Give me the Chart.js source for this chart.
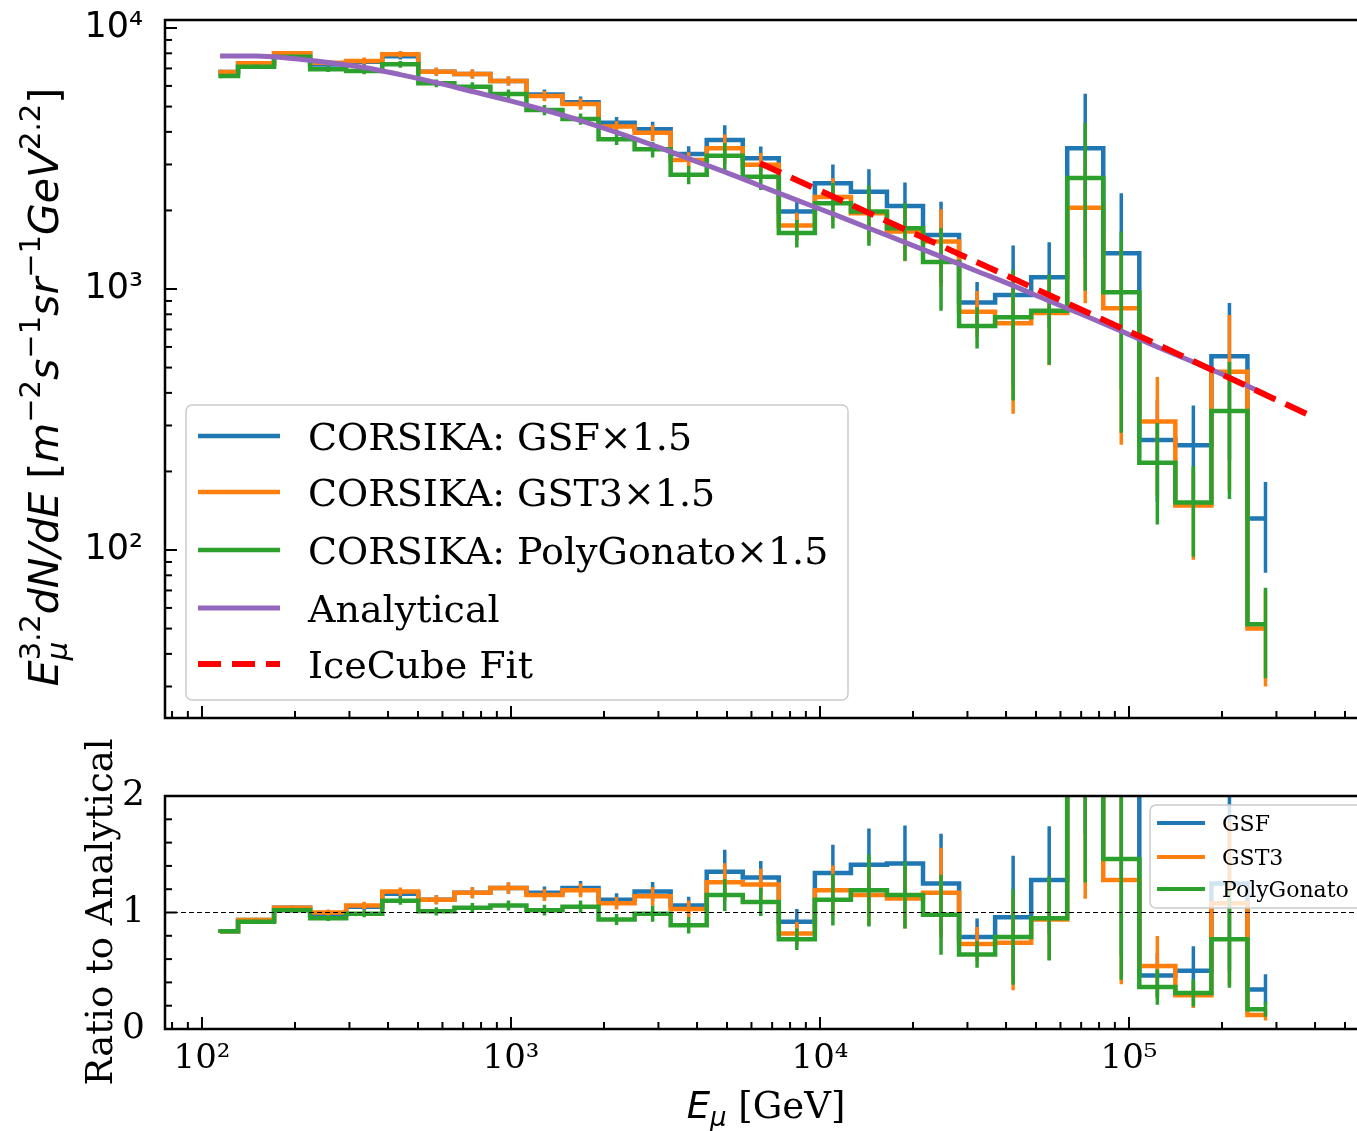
<!DOCTYPE html>
<html>
<head>
<meta charset="utf-8">
<script src="https://cdn.jsdelivr.net/npm/chart.js@4.4.1/dist/chart.umd.min.js"></script>
<style>
  html, body { margin: 0; padding: 0; background: #fff; overflow: hidden; }
  #wrap { position: relative; width: 1357px; height: 1131px; overflow: hidden; background: #fff; }
  canvas { position: absolute; left: 0; }
  #chartTop { top: 0; }
  #chartBot { top: 720px; }
</style>
</head>
<body>
<div id="wrap">
  <canvas id="chartTop" width="1400" height="720"></canvas>
  <canvas id="chartBot" width="1400" height="411"></canvas>
</div>
<script>
// muon energy bin centres [GeV]
var energy = [114.4, 149.6, 195.7, 256.0, 335.0, 438.3, 573.3, 749.9, 981.1, 1283,
              1679, 2196, 2873, 3758, 4917, 6431, 8414, 11007, 14398, 18836,
              24643, 32236, 42170, 55172, 72161, 94406, 123510, 161530, 211350, 276480];

// E^3.2 dN/dE, CORSIKA x1.5
var fluxGSF  = [6780, 7330, 8000, 7250, 7420, 7800, 6800, 6670, 6270, 5560,
                5200, 4340, 4090, 3290, 3720, 3170, 1980, 2540, 2360, 2080,
                1610, 887, 948, 1110, 3460, 1370, 264, 252, 553, 132];
var fluxGST3 = [6780, 7330, 8000, 7360, 7480, 7930, 6800, 6670, 6270, 5490,
                5120, 4190, 3970, 3120, 3460, 2990, 1750, 2250, 1950, 1660,
                1520, 819, 739, 810, 2050, 843, 311, 148, 482, 50];
var fluxPoly = [6550, 7110, 7760, 6950, 6850, 7260, 6140, 5960, 5590, 4850,
                4480, 3750, 3430, 2740, 3240, 2690, 1640, 2130, 1980, 1710,
                1270, 721, 780, 826, 2660, 971, 216, 152, 341, 52];

// relative errors
var errGSF  = [0.02, 0.02, 0.02, 0.025, 0.03, 0.03, 0.035, 0.04, 0.04, 0.045,
               0.05, 0.05, 0.07, 0.07, 0.14, 0.11, 0.12, 0.18, 0.22, 0.23,
               0.34, 0.2, 0.55, 0.36, 0.62, 0.7, 0.42, 0.42, 0.6, 0.38];
var errGST3 = [0.02, 0.02, 0.02, 0.025, 0.03, 0.03, 0.035, 0.04, 0.04, 0.045,
               0.05, 0.05, 0.07, 0.07, 0.13, 0.11, 0.12, 0.18, 0.22, 0.23,
               0.33, 0.2, 0.55, 0.37, 0.57, 0.7, 0.48, 0.38, 0.65, 0.4];
var errPoly = [0.02, 0.02, 0.02, 0.025, 0.03, 0.03, 0.035, 0.04, 0.04, 0.045,
               0.05, 0.05, 0.07, 0.08, 0.12, 0.11, 0.12, 0.2, 0.26, 0.25,
               0.35, 0.18, 0.52, 0.38, 0.63, 0.71, 0.42, 0.38, 0.54, 0.38];

var analytical = [7810, 7810, 7640, 7380, 7060, 6630, 6180, 5710, 5280, 4850,
                  4420, 3980, 3560, 3160, 2810, 2480, 2190, 1940, 1710, 1510,
                  1330, 1170, 1030, 900, 790, 690, 600, 525, 458, 395];

// IceCube fit
var fitEnergy = [6394, 117000, 393000];
var fitFlux = [3031, 632, 324];

// ratio to analytical
var ratioGSF  = [0.84, 0.935, 1.04, 0.98, 1.05, 1.16, 1.11, 1.17, 1.21, 1.17,
                 1.21, 1.11, 1.18, 1.06, 1.35, 1.30, 0.92, 1.34, 1.41, 1.42,
                 1.25, 0.79, 0.96, 1.28, 4.4, 2.1, 0.46, 0.50, 1.25, 0.34];
var ratioGST3 = [0.84, 0.936, 1.04, 1.0, 1.06, 1.18, 1.11, 1.17, 1.21, 1.15,
                 1.19, 1.08, 1.14, 1.03, 1.26, 1.24, 0.82, 1.19, 1.15, 1.12,
                 1.17, 0.73, 0.74, 0.94, 2.6, 1.28, 0.54, 0.29, 1.08, 0.12];
var ratioPoly = [0.84, 0.92, 1.02, 0.95, 0.99, 1.10, 1.01, 1.04, 1.06, 1.02,
                 1.05, 0.94, 0.99, 0.89, 1.15, 1.09, 0.77, 1.11, 1.19, 1.15,
                 0.98, 0.64, 0.79, 0.95, 3.4, 1.46, 0.36, 0.31, 0.77, 0.17];

var mainNames = ['CORSIKA: GSF\u00d71.5', 'CORSIKA: GST3\u00d71.5', 'CORSIKA: PolyGonato\u00d71.5', 'Analytical', 'IceCube Fit'];
var ratioNames = ['GSF', 'GST3', 'PolyGonato'];

var xMin = 75.9, xMax = 593500;
var yMin = 22.72, yMax = 10732;
var xTickVals = [80, 90, 100, 200, 300, 400, 500, 600, 700, 800, 900,
                 1000, 2000, 3000, 4000, 5000, 6000, 7000, 8000, 9000,
                 10000, 20000, 30000, 40000, 50000, 60000, 70000, 80000, 90000,
                 100000, 200000, 300000, 400000, 500000];
var yTickVals = [30, 40, 50, 60, 70, 80, 90, 100, 200, 300, 400, 500, 600, 700, 800, 900,
                 1000, 2000, 3000, 4000, 5000, 6000, 7000, 8000, 9000, 10000];
var ratioTickVals = [0, 0.2, 0.4, 0.6, 0.8, 1, 1.2, 1.4, 1.6, 1.8, 2];

var BLUE = '#1f77b4', ORANGE = '#ff7f0e', GREEN = '#2ca02c', PURPLE = '#9467bd', RED = '#ff0000';

var SUP = { '0': '\u2070', '1': '\u00b9', '2': '\u00b2', '3': '\u00b3', '4': '\u2074', '5': '\u2075' };
function isPow(v) {
  var e = Math.log10(v);
  return Math.abs(e - Math.round(e)) < 1e-6;
}
function powLabel(v) {
  return isPow(v) ? '10' + SUP[String(Math.round(Math.log10(v)))] : '';
}

function stepSet(vals, color) {
  return {
    data: energy.map(function (e, i) { return { x: e, y: vals[i] }; }),
    borderColor: color, borderWidth: 4.5, stepped: 'middle', pointRadius: 0,
    fill: false, borderJoinStyle: 'miter'
  };
}
function errSet(vals, rel, color) {
  var pts = [];
  energy.forEach(function (e, i) {
    pts.push({ x: e, y: vals[i] * (1 - rel[i]) }, { x: e, y: vals[i] * (1 + rel[i]) }, { x: e, y: null });
  });
  return { data: pts, borderColor: color, borderWidth: 3.5, pointRadius: 0, fill: false, spanGaps: false, borderCapStyle: 'butt' };
}

function drawRich(ctx, parts, x, y, rotate) {
  ctx.save();
  ctx.translate(x, y);
  if (rotate) ctx.rotate(-Math.PI / 2);
  var total = 0;
  parts.forEach(function (p) { ctx.font = p.f; if (!p.keep) total += ctx.measureText(p.t).width; });
  var cx = -total / 2;
  ctx.fillStyle = '#000';
  ctx.textBaseline = 'alphabetic';
  ctx.textAlign = 'left';
  parts.forEach(function (p) {
    ctx.font = p.f;
    ctx.fillText(p.t, cx, p.dy || 0);
    if (!p.keep) cx += ctx.measureText(p.t).width;
  });
  ctx.restore();
}

function drawLegend(ctx, L) {
  ctx.save();
  ctx.beginPath();
  ctx.roundRect(L.x, L.y, L.w, L.h, 6);
  ctx.fillStyle = 'rgba(255,255,255,0.8)';
  ctx.fill();
  ctx.strokeStyle = '#cccccc';
  ctx.lineWidth = 1.5;
  ctx.stroke();
  ctx.font = L.font;
  ctx.textBaseline = 'alphabetic';
  ctx.fillStyle = '#000';
  L.rows.forEach(function (r, i) {
    var y = L.rowY[i];
    ctx.strokeStyle = r.color;
    ctx.lineWidth = r.width;
    ctx.lineCap = 'butt';
    ctx.setLineDash(r.dash || []);
    ctx.beginPath();
    ctx.moveTo(L.lineX0, y);
    ctx.lineTo(L.lineX1, y);
    ctx.stroke();
    ctx.setLineDash([]);
    ctx.fillText(r.label, L.textX, y + L.size * 0.365);
  });
  ctx.restore();
}

function makeDeco(isMajorY, extra) {
  return {
    id: 'deco',
    afterDatasetsDraw: function (chart) {
      var ctx = chart.ctx, a = chart.chartArea, sx = chart.scales.x, sy = chart.scales.y;
      ctx.save();
      ctx.strokeStyle = '#000';
      ctx.lineWidth = 2;
      sx.ticks.forEach(function (t) {
        var px = sx.getPixelForValue(t.value);
        if (px < a.left + 1 || px > a.right - 1) return;
        var len = isPow(t.value) ? 12 : 7;
        ctx.beginPath(); ctx.moveTo(px, a.bottom); ctx.lineTo(px, a.bottom - len); ctx.stroke();
      });
      sy.ticks.forEach(function (t) {
        var py = sy.getPixelForValue(t.value);
        if (py < a.top + 1 || py > a.bottom - 1) return;
        var len = isMajorY(t.value) ? 12 : 7;
        ctx.beginPath(); ctx.moveTo(a.left, py); ctx.lineTo(a.left + len, py); ctx.stroke();
      });
      ctx.lineWidth = 2.5;
      ctx.strokeRect(a.left, a.top, a.right - a.left, a.bottom - a.top);
      ctx.restore();
    },
    afterDraw: function (chart) { extra(chart.ctx, chart); }
  };
}

function logX(showLabels, h) {
  return {
    type: 'logarithmic', min: xMin, max: xMax,
    grid: { display: false }, border: { display: false },
    ticks: {
      display: showLabels, autoSkip: false, maxRotation: 0, padding: 2, color: '#000',
      font: { family: 'DejaVu Serif', size: 34 },
      callback: function (v) { return powLabel(v); }
    },
    afterBuildTicks: function (s) { s.ticks = xTickVals.map(function (v) { return { value: v }; }); },
    afterFit: function (s) { s.height = h; s.paddingLeft = 0; s.paddingRight = 0; }
  };
}

// ---------- main panel ----------
new Chart(document.getElementById('chartTop'), {
  type: 'line',
  data: {
    datasets: [
      { data: fitEnergy.map(function (e, i) { return { x: e, y: fitFlux[i] }; }),
        borderColor: RED, borderWidth: 6, borderDash: [23, 11], borderCapStyle: 'butt', pointRadius: 0, fill: false },
      { data: energy.map(function (e, i) { return { x: e, y: analytical[i] }; }),
        borderColor: PURPLE, borderWidth: 5, pointRadius: 0, fill: false, cubicInterpolationMode: 'monotone' },
      errSet(fluxPoly, errPoly, GREEN),
      stepSet(fluxPoly, GREEN),
      errSet(fluxGST3, errGST3, ORANGE),
      stepSet(fluxGST3, ORANGE),
      errSet(fluxGSF, errGSF, BLUE),
      stepSet(fluxGSF, BLUE)
    ]
  },
  options: {
    responsive: false, animation: false, devicePixelRatio: 1,
    layout: { padding: { left: 0, right: 32, top: 20, bottom: 2 } },
    plugins: { legend: { display: false }, tooltip: { enabled: false } },
    scales: {
      x: logX(false, 0),
      y: {
        type: 'logarithmic', min: yMin, max: yMax,
        grid: { display: false }, border: { display: false },
        ticks: {
          autoSkip: false, padding: 14, color: '#000',
          font: { family: 'DejaVu Sans', size: 35 },
          callback: function (v) { return powLabel(v); }
        },
        afterBuildTicks: function (s) { s.ticks = yTickVals.map(function (v) { return { value: v }; }); },
        afterFit: function (s) { s.width = 165; s.paddingTop = 0; s.paddingBottom = 0; }
      }
    }
  },
  plugins: [makeDeco(isPow, function (ctx) {
    drawLegend(ctx, {
      x: 186, y: 405, w: 662, h: 295, lineX0: 198, lineX1: 280, textX: 308,
      font: '38px "DejaVu Serif"', size: 38,
      rowY: [436, 492, 550, 608, 664],
      rows: [
        { label: mainNames[0], color: BLUE, width: 4.5 },
        { label: mainNames[1], color: ORANGE, width: 4.5 },
        { label: mainNames[2], color: GREEN, width: 4.5 },
        { label: mainNames[3], color: PURPLE, width: 5 },
        { label: mainNames[4], color: RED, width: 6, dash: [23, 11] }
      ]
    });
    var I = 'italic 41px "DejaVu Sans"', R = '41px "DejaVu Sans"';
    var SI = 'italic 29px "DejaVu Sans"', SR = '29px "DejaVu Sans"';
    drawRich(ctx, [
      { t: 'E', f: I }, { t: '\u03bc', f: SI, dy: 9, keep: true }, { t: '3.2', f: SR, dy: -18 },
      { t: 'dN/dE', f: I }, { t: ' [', f: R }, { t: 'm', f: I }, { t: '\u22122', f: SR, dy: -18 },
      { t: 's', f: I }, { t: '\u22121', f: SR, dy: -18 }, { t: 'sr', f: I }, { t: '\u22121', f: SR, dy: -18 },
      { t: 'GeV', f: I }, { t: '2.2', f: SR, dy: -18 }, { t: ']', f: R }
    ], 58, 387, true);
  })]
});

// ---------- ratio panel ----------
new Chart(document.getElementById('chartBot'), {
  type: 'line',
  data: {
    datasets: [
      { data: [{ x: xMin, y: 1 }, { x: xMax, y: 1 }], borderColor: '#000', borderWidth: 1.2,
        borderDash: [5, 3], pointRadius: 0, fill: false },
      errSet(ratioPoly, errPoly, GREEN),
      stepSet(ratioPoly, GREEN),
      errSet(ratioGST3, errGST3, ORANGE),
      stepSet(ratioGST3, ORANGE),
      errSet(ratioGSF, errGSF, BLUE),
      stepSet(ratioGSF, BLUE)
    ]
  },
  options: {
    responsive: false, animation: false, devicePixelRatio: 1,
    layout: { padding: { left: 0, right: 32, top: 76, bottom: 0 } },
    plugins: { legend: { display: false }, tooltip: { enabled: false } },
    scales: {
      x: logX(true, 102),
      y: {
        type: 'linear', min: 0, max: 2,
        grid: { display: false }, border: { display: false },
        ticks: {
          autoSkip: false, padding: 12, color: '#000',
          font: { family: 'DejaVu Serif', size: 36 },
          callback: function (v) { return Math.abs(v - Math.round(v)) < 1e-6 ? String(Math.round(v)) : ''; }
        },
        afterBuildTicks: function (s) { s.ticks = ratioTickVals.map(function (v) { return { value: v }; }); },
        afterFit: function (s) { s.width = 165; s.paddingTop = 0; s.paddingBottom = 0; }
      }
    }
  },
  plugins: [makeDeco(function (v) { return Math.abs(v - Math.round(v)) < 1e-6; }, function (ctx) {
    drawLegend(ctx, {
      x: 1150, y: 85, w: 220, h: 103, lineX0: 1157, lineX1: 1205, textX: 1222,
      font: '22px "DejaVu Serif"', size: 22,
      rowY: [103, 137, 169],
      rows: [
        { label: ratioNames[0], color: BLUE, width: 4 },
        { label: ratioNames[1], color: ORANGE, width: 4 },
        { label: ratioNames[2], color: GREEN, width: 4 }
      ]
    });
    drawRich(ctx, [{ t: 'Ratio to Analytical', f: '37px "DejaVu Serif"' }], 112, 192, true);
    drawRich(ctx, [
      { t: 'E', f: 'italic 37px "DejaVu Sans"' }, { t: '\u03bc', f: 'italic 26px "DejaVu Sans"', dy: 8 },
      { t: ' [GeV]', f: '37px "DejaVu Serif"' }
    ], 766, 398, false);
  })]
});
</script>
</body>
</html>
